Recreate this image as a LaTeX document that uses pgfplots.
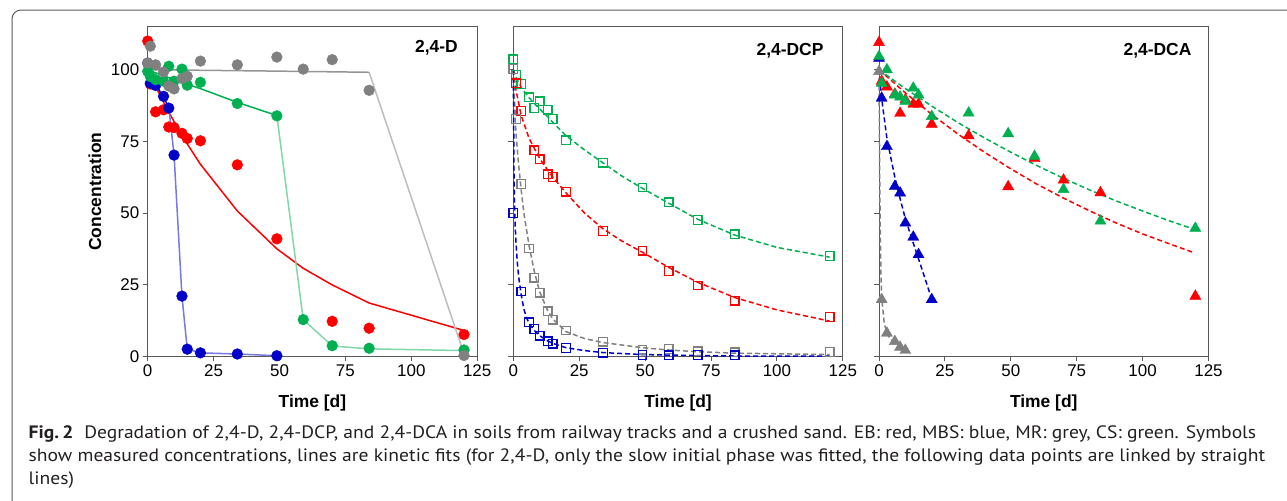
\documentclass[border=0pt]{standalone}
\usepackage{fontspec}
\setmainfont{Liberation Sans}
\newfontfamily\capfont{PT Sans}
\usepackage{graphicx}
\usepackage{pgfplots}
\pgfplotsset{compat=1.18}

\definecolor{cRed}{HTML}{FF0000}
\definecolor{cBlue}{HTML}{0000C8}
\definecolor{cGreen}{HTML}{00B050}
\definecolor{cGray}{HTML}{808080}
\definecolor{lBlue}{HTML}{7878E4}
\definecolor{lGreen}{HTML}{80D8A8}
\definecolor{lGray}{HTML}{BDBDBD}
\definecolor{fGray}{HTML}{959595}
\definecolor{axisC}{HTML}{595959}
\definecolor{frameC}{HTML}{5A5A5A}
\definecolor{capC}{HTML}{231F20}

\pgfplotsset{panel/.style={
  scale only axis, width=329.5bp, height=329.6bp,
  xmin=0, xmax=125, ymin=0, ymax=115,
  xtick={0,25,50,75,100,125}, ytick={0,25,50,75,100},
  tick align=outside, tick pos=left, major tick length=5bp,
  axis line style={axisC, line width=0.9bp},
  every tick/.style={axisC, line width=0.9bp},
  /pgf/number format/assume math mode=true,
  tick label style={font=\fontsize{17}{17}\selectfont, text=black},
  xlabel={Time [d]},
  every axis x label/.style={at={(axis description cs:0.5,0)}, anchor=center, yshift=-46.5bp,
    font=\bfseries\fontsize{17.5}{17.5}\selectfont},
  clip=false,
}}

\newsavebox\capbox
\newlength\capw
\newcommand\capline[2]{%
  \sbox\capbox{#2}\capw=\wd\capbox
  \pgfmathsetmacro\capr{#1*1.00375/\the\capw}%
  \xdef\lastcapr{\capr}%
  \scalebox{\capr}[1]{\usebox\capbox}}

\begin{document}
\begin{tikzpicture}
\draw[frameC, line width=1bp, rounded corners=9bp] (12bp,-10bp) rectangle (1320bp,-540bp);

% ---------------- 2,4-D ----------------
\begin{axis}[panel, at={(147.7bp,-356.3bp)}, anchor=south west]
% fits and links
\addplot[cRed, line width=1.5bp] coordinates {(0,100)(1,98.0)(3,94.2)(6,88.7)(8,85.2)(10,81.9)(13,77.1)(15,74.1)(20,67.0)(34,50.7)(49,37.5)(59,30.7)(70,24.9)(84,18.6)(120,9.0)};
\addplot[lBlue, line width=1.5bp] coordinates {(8,87.0)(10,70.2)(13,21)(15,2.5)(20,1.2)(34,0.8)(49,0.2)};
\addplot[cBlue, line width=1.5bp] coordinates {(0,100)(1,98.3)(3,95.0)(6,90.3)(8,87.0)};
\addplot[lGreen, line width=1.5bp] coordinates {(49,84.0)(59,12.8)(70,3.6)(84,2.6)(120,2.0)};
\addplot[cGreen, line width=1.5bp] coordinates {(0,100)(1,99.7)(3,98.9)(6,97.9)(8,97.2)(10,96.6)(13,95.5)(15,94.9)(20,93.4)(34,88.6)(49,84.0)};
\addplot[lGray, line width=1.5bp] coordinates {(84,99.1)(120,0.8)};
\addplot[fGray, line width=1.5bp] coordinates {(0,100)(20,99.8)(49,99.5)(84,99.1)};
% data
\addplot[only marks, mark=*, mark size=5.4bp, cRed] coordinates {(0,110)(1,95)(3,85.3)(6,86)(8,80)(10,79.8)(13,77.8)(15,76)(20,75.2)(34,66.8)(49,41)(70,12.2)(84,9.8)(120,7.6)};
\addplot[only marks, mark=*, mark size=5.4bp, cBlue] coordinates {(0,102.3)(1,95.3)(3,94.5)(6,90.7)(8,86.6)(10,70.2)(13,21)(15,2.5)(20,1.2)(34,0.8)(49,0.2)};
\addplot[only marks, mark=*, mark size=5.4bp, cGreen] coordinates {(0,99.4)(1,97.6)(3,96.5)(6,96)(8,101.2)(10,96)(13,100.2)(15,94.6)(20,95.6)(34,88.2)(49,83.9)(59,12.8)(70,3.7)(84,2.8)(120,2.2)};
\addplot[only marks, mark=*, mark size=5.4bp, cGray] coordinates {(0,102.3)(1,108.2)(3,101.7)(6,99.2)(8,94.3)(10,93.3)(13,96.9)(15,97.7)(20,103)(34,101.7)(49,104.4)(59,100.2)(70,103.5)(84,92.8)(120,0.3)};
\end{axis}

% ---------------- 2,4-DCP ----------------
\begin{axis}[panel, at={(513.3bp,-356.3bp)}, anchor=south west, yticklabels={}]
\addplot[only marks, mark=square, mark size=4.3bp, cGreen, mark options={line width=1.3bp}] coordinates {(0,103.6)(1,98.2)(3,95)(6,90.4)(8,86.6)(10,89)(13,86)(15,82.8)(20,75.4)(34,67.6)(49,58.9)(59,53.7)(70,47.6)(84,42.6)(120,35)};
\addplot[only marks, mark=square, mark size=4.3bp, cRed, mark options={line width=1.3bp}] coordinates {(1,95.3)(3,85.6)(8,71.9)(10,68.7)(13,63.5)(15,62.6)(20,57.4)(34,43.7)(49,36.8)(59,29.8)(70,24.7)(84,19.4)(120,13.7)};
\addplot[only marks, mark=square, mark size=4.3bp, cGray, mark options={line width=1.3bp}] coordinates {(0,100.2)(1,82.8)(3,60.1)(6,37.6)(8,27.4)(10,22.2)(13,15.7)(15,12.8)(20,9)(34,5.1)(49,2.3)(59,2.6)(70,1.7)(84,1.4)(120,1.5)};
\addplot[only marks, mark=square, mark size=4.3bp, cBlue, mark options={line width=1.3bp}] coordinates {(0,50)(3,22.6)(6,11.9)(8,9.5)(10,7.2)(13,5.2)(15,4.4)(20,2.9)(34,1.3)(49,0.5)(59,0.4)(70,0.5)(84,0.4)};
\addplot[cGreen, line width=1.5bp, dash pattern=on 5bp off 3bp] coordinates {(0,100)(1,97.5)(3,93.8)(6,90.2)(8,88.2)(10,86.3)(13,83.6)(15,81.6)(20,77)(27,72)(34,67.5)(41,63)(49,58.6)(59,53.4)(70,47.8)(84,42.3)(100,38)(120,34.6)};
\addplot[cRed, line width=1.5bp, dash pattern=on 5bp off 3bp] coordinates {(0,100)(1,93)(3,84)(6,76)(8,72.5)(10,69)(13,65)(15,62.5)(20,57)(27,50)(34,44.5)(41,40.3)(49,36.3)(59,31)(70,25.8)(84,20.5)(100,16.2)(120,12.3)};
\addplot[cGray, line width=1.5bp, dash pattern=on 5bp off 3bp] coordinates {(0,100)(1,78)(2,67)(3,58)(4,50)(6,38.5)(8,29.5)(10,22.5)(13,16)(15,13)(20,8.6)(27,6.2)(34,4.8)(49,3)(59,2.2)(70,1.6)(84,1.1)(120,0.6)};
\addplot[cBlue, line width=1.5bp, dash pattern=on 5bp off 3bp] coordinates {(0,100)(0.3,60)(0.6,48)(1,40)(1.5,33)(2,28)(3,21.5)(4,16.5)(5,13.5)(6,11.5)(8,9)(10,7.2)(13,5.4)(15,4.5)(20,3)(27,2)(34,1.3)(49,0.6)(70,0.25)(84,0.1)(120,0.02)};
\end{axis}

% ---------------- 2,4-DCA ----------------
\begin{axis}[panel, at={(879bp,-356.3bp)}, anchor=south west, yticklabels={}]
\addplot[only marks, mark=triangle*, mark size=6.4bp, cRed] coordinates {(0,109.5)(1,96)(3,94)(6,91.5)(8,84.8)(10,89.5)(13,88)(15,88)(20,81)(34,77)(49,59.2)(59,69)(70,61.5)(84,57.1)(120,21)};
\addplot[only marks, mark=triangle*, mark size=6.4bp, cBlue] coordinates {(0,104)(1,90.1)(3,73.2)(6,59.3)(8,57)(10,46.5)(13,41.6)(15,35.5)(20,19.8)};
\addplot[only marks, mark=triangle*, mark size=6.4bp, cGreen] coordinates {(0,104.6)(1,95.3)(3,100)(6,91.2)(8,90.5)(10,89)(13,93.6)(15,91.2)(20,83.7)(34,84.9)(49,77.7)(59,69.8)(70,58.2)(84,47.2)(120,44.7)};
\addplot[only marks, mark=triangle*, mark size=6.4bp, cGray] coordinates {(0,99.4)(1,19.8)(3,8.1)(6,5.2)(8,3.2)(10,2.1)};
\addplot[cRed, line width=1.5bp, dash pattern=on 5bp off 3bp] coordinates {(0,100)(10,91.9)(20,84.4)(30,77.5)(40,71.2)(50,65.4)(60,60.0)(70,55.2)(80,50.7)(90,46.5)(100,42.7)(110,39.3)(119,36.3)};
\addplot[cGreen, line width=1.5bp, dash pattern=on 5bp off 3bp] coordinates {(0,100)(10,93.4)(20,87.3)(30,81.5)(40,76.2)(50,71.2)(60,66.5)(70,62.1)(80,58.0)(90,54.2)(100,50.7)(110,47.3)(120,44.2)};
\addplot[cBlue, line width=1.5bp, dash pattern=on 5bp off 3bp] coordinates {(0,100)(1,90)(3,76)(6,62.5)(8,55)(10,48)(13,39.5)(15,34)(20,20)};
\addplot[cGray, line width=1.5bp, dash pattern=on 5bp off 3bp] coordinates {(0,100)(0.25,65)(0.5,42)(0.75,28)(1,20.5)(2,11.5)(3,8)(4,6.5)(6,4.7)(8,3.3)(10,2.2)(11,1.7)};
\end{axis}

% labels and titles
\node[rotate=90, font=\bfseries\fontsize{17.5}{17.5}\selectfont] at (95bp,-191.5bp) {Concentration};
\node[font=\bfseries\fontsize{17.5}{17.5}\selectfont] at (436.5bp,-47.5bp) {2,4-D};
\node[font=\bfseries\fontsize{17.5}{17.5}\selectfont] at (790bp,-50.5bp) {2,4-DCP};
\node[font=\bfseries\fontsize{17.5}{17.5}\selectfont] at (1157.5bp,-50.5bp) {2,4-DCA};

% caption
\begin{scope}[every node/.style={anchor=base west, inner sep=0pt, text=capC, font=\capfont\fontsize{18}{18}\selectfont}]
\node at (28.5bp,-438.3bp) {\capline{1227.5}{{\bfseries Fig.\,2}\hspace{0.55em}Degradation of 2,4-D, 2,4-DCP, and 2,4-DCA in soils from railway tracks and a crushed sand. EB: red, MBS: blue, MR: grey, CS: green. Symbols}};
\node at (28.5bp,-461.3bp) {\capline{1236.5}{show measured concentrations, lines are kinetic fits (for 2,4-D, only the slow initial phase was fitted, the following data points are linked by straight}};
\node at (28.5bp,-484.3bp) {\scalebox{\lastcapr}[1]{lines)}};
\end{scope}

\pgfresetboundingbox
\path[use as bounding box] (0bp,0bp) rectangle (1287bp,-501bp);
\end{tikzpicture}
\end{document}
